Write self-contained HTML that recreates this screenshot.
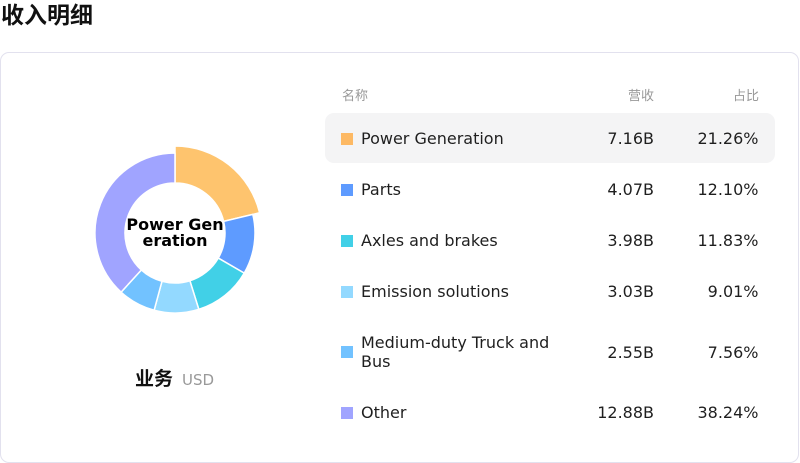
<!DOCTYPE html>
<html>
<head>
<meta charset="utf-8">
<style>
  html,body{margin:0;padding:0;background:#fff;}
  body{width:800px;height:463px;position:relative;overflow:hidden;font-family:"DejaVu Sans","Liberation Sans","Noto Sans CJK SC",sans-serif;color:#1f1f1f;}
  .abs{position:absolute;white-space:nowrap;}
  .title{left:1px;top:0;height:30px;line-height:30px;font-size:23px;font-weight:bold;font-family:"Liberation Sans","Noto Sans CJK SC",sans-serif;color:#111;}
  .card{position:absolute;left:0;top:52px;width:797px;height:409px;border:1px solid #e2e1ee;border-radius:9px;}
  .hdr{font-family:"Liberation Sans","Noto Sans CJK SC",sans-serif;font-size:13px;color:#999;height:20px;line-height:20px;top:85.5px;}
  .hl{position:absolute;left:325px;top:113px;width:450px;height:50px;border-radius:9px;background:#f4f4f5;}
  .sq{position:absolute;left:341px;width:12px;height:12px;}
  .nm{position:absolute;left:361px;width:205px;font-size:16px;line-height:19px;white-space:normal;}
  .num{font-size:16px;line-height:19px;text-align:right;}
  .rev{right:146px;}
  .pct{right:41.5px;}
</style>
</head>
<body>
<div class="abs title">收入明细</div>
<div class="card"></div>

<svg class="abs" style="left:0;top:0" width="800" height="463" viewBox="0 0 800 463">
  <g stroke="#fff" stroke-width="1.5" stroke-linejoin="round">
    <path d="M175,146 A87,87 0 0 1 259.61,212.75 L223.63,221.36 A50,50 0 0 0 175,183 Z" fill="#FEC46E"/>
    <path d="M252.8,214.38 A80,80 0 0 1 244.22,273.12 L218.26,258.08 A50,50 0 0 0 223.63,221.36 Z" fill="#5E9BFF"/>
    <path d="M244.22,273.12 A80,80 0 0 1 198.82,309.38 L189.89,280.74 A50,50 0 0 0 218.26,258.08 Z" fill="#41D0E7"/>
    <path d="M198.82,309.38 A80,80 0 0 1 154.14,310.23 L161.96,281.27 A50,50 0 0 0 189.89,280.74 Z" fill="#93D9FF"/>
    <path d="M154.14,310.23 A80,80 0 0 1 121.11,292.14 L141.32,269.96 A50,50 0 0 0 161.96,281.27 Z" fill="#72C2FF"/>
    <path d="M121.11,292.14 A80,80 0 0 1 175,153 L175,183 A50,50 0 0 0 141.32,269.96 Z" fill="#A0A4FF"/>
  </g>
  <text x="175" y="230" text-anchor="middle" font-family="DejaVu Sans, sans-serif" font-weight="bold" font-size="16" fill="#000">Power Gen</text>
  <text x="175" y="246" text-anchor="middle" font-family="DejaVu Sans, sans-serif" font-weight="bold" font-size="16" fill="#000">eration</text>
</svg>

<div class="abs" style="left:135px;top:368px;height:24px;line-height:24px;font-size:19px;font-weight:bold;font-family:'Liberation Sans','Noto Sans CJK SC',sans-serif;color:#111;">业务</div>
<div class="abs" style="left:182px;top:370px;height:20px;line-height:20px;font-size:15px;color:#999;">USD</div>

<div class="abs hdr" style="left:342px;">名称</div>
<div class="abs hdr" style="right:146px;">营收</div>
<div class="abs hdr" style="right:41px;">占比</div>

<div class="hl"></div>

<!-- Row 1 -->
<div class="sq" style="top:133px;background:#FDB964;"></div>
<div class="nm" style="top:129px;">Power Generation</div>
<div class="abs num rev" style="top:129px;">7.16B</div>
<div class="abs num pct" style="top:129px;">21.26%</div>

<!-- Row 2 -->
<div class="sq" style="top:184px;background:#5E9BFF;"></div>
<div class="nm" style="top:180px;">Parts</div>
<div class="abs num rev" style="top:180px;">4.07B</div>
<div class="abs num pct" style="top:180px;">12.10%</div>

<!-- Row 3 -->
<div class="sq" style="top:235px;background:#41D0E7;"></div>
<div class="nm" style="top:231px;">Axles and brakes</div>
<div class="abs num rev" style="top:231px;">3.98B</div>
<div class="abs num pct" style="top:231px;">11.83%</div>

<!-- Row 4 -->
<div class="sq" style="top:286px;background:#93D9FF;"></div>
<div class="nm" style="top:282px;">Emission solutions</div>
<div class="abs num rev" style="top:282px;">3.03B</div>
<div class="abs num pct" style="top:282px;">9.01%</div>

<!-- Row 5 -->
<div class="sq" style="top:346px;background:#72C2FF;"></div>
<div class="nm" style="top:333px;">Medium-duty Truck and Bus</div>
<div class="abs num rev" style="top:342.5px;">2.55B</div>
<div class="abs num pct" style="top:342.5px;">7.56%</div>

<!-- Row 6 -->
<div class="sq" style="top:407px;background:#A0A4FF;"></div>
<div class="nm" style="top:403px;">Other</div>
<div class="abs num rev" style="top:403px;">12.88B</div>
<div class="abs num pct" style="top:403px;">38.24%</div>
</body>
</html>
